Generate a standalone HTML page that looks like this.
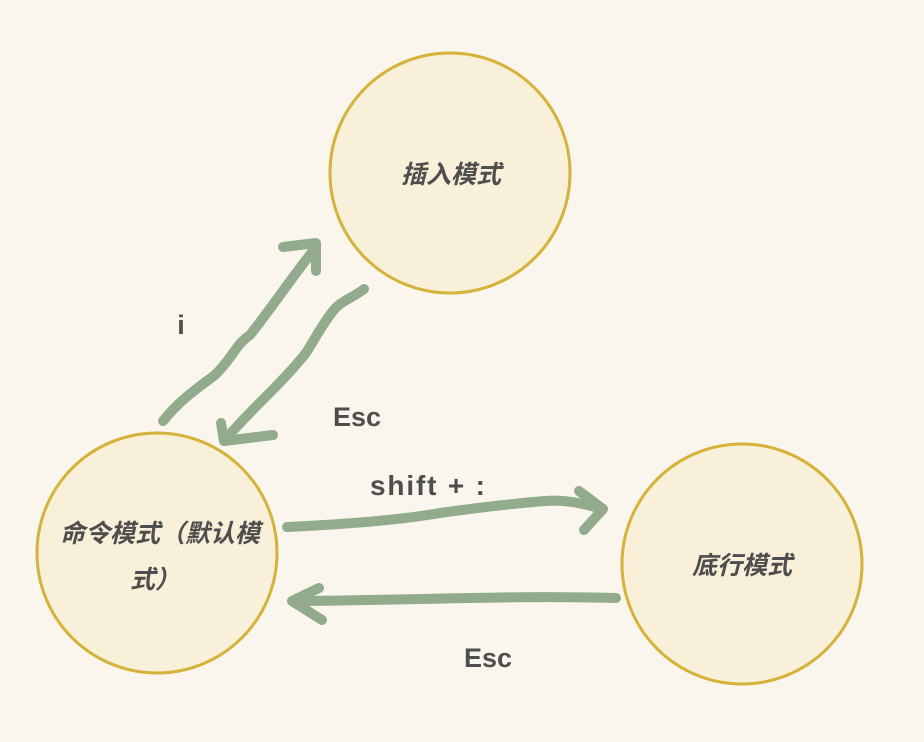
<!DOCTYPE html>
<html><head><meta charset="utf-8"><style>
html,body{margin:0;padding:0;background:#faf6ee;}
svg{display:block}
.t{font-family:"Liberation Sans","Noto Sans CJK SC",sans-serif;font-weight:bold;fill:#4e4e4e;}
.c{font-style:italic;font-size:25px;}
</style></head><body>
<svg width="924" height="742" viewBox="0 0 924 742">
<rect width="924" height="742" fill="#faf6ee"/>
<g fill="#f8f0d9" stroke="#d5b23a" stroke-width="3">
<circle cx="450" cy="173" r="120"/>
<circle cx="157" cy="553" r="120"/>
<circle cx="742" cy="564" r="120"/>
</g>
<g fill="none" stroke="#91ab8c" stroke-width="10" stroke-linecap="round" stroke-linejoin="round">
<path d="M163,421 C180,400 195,390 215,375 C235,355 235,345 250,335 C270,310 290,280 316,247"/>
<path d="M283,247 L316,243 L316,271"/>
<path d="M364,289 C350,300 340,300 330,315 C315,335 310,350 300,360 C280,385 250,410 224,441"/>
<path d="M221,423 L224,441 L273,435"/>
<path d="M287,527 C350,524 400,520 440,513 C490,506 520,503 545,501 C570,499 590,506 603,509"/>
<path d="M579,491 L603,509 L584,530"/>
<path d="M616,598 C540,596 470,598 420,599 C370,600 330,601 292,601"/>
<path d="M319,588 L292,601 L322,620"/>
</g>
<text class="t" x="181" y="334" font-size="27" text-anchor="middle">i</text>
<text class="t" x="357" y="426" font-size="27" text-anchor="middle">Esc</text>
<text class="t" x="370" y="495" font-size="28" textLength="115" lengthAdjust="spacing">shift + :</text>
<text class="t" x="488" y="667" font-size="27" text-anchor="middle">Esc</text>
<text class="t c" x="451" y="183" text-anchor="middle">插入模式</text>
<text class="t c" x="160" y="542" text-anchor="middle">命令模式（默认模</text>
<text class="t c" x="155" y="588" text-anchor="middle">式）</text>
<text class="t c" x="742" y="574" text-anchor="middle">底行模式</text>
</svg>
</body></html>
